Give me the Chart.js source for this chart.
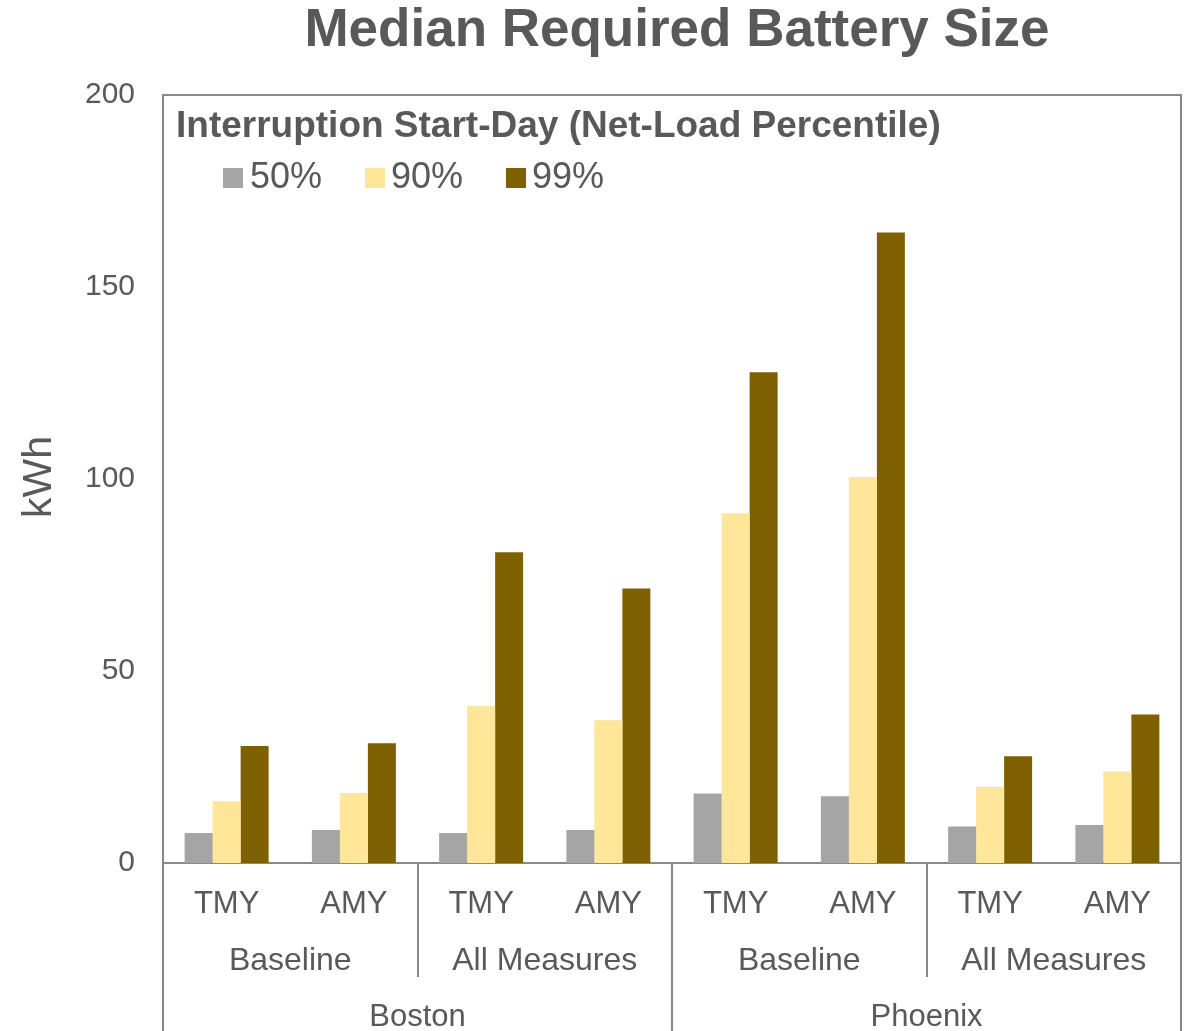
<!DOCTYPE html>
<html>
<head>
<meta charset="utf-8">
<script src="https://cdn.jsdelivr.net/npm/chart.js@4.4.1/dist/chart.umd.min.js"></script>
<style>
  html, body { margin: 0; padding: 0; background: #fff; }
  #wrap { width: 1191px; height: 1031px; }
</style>
</head>
<body>
<div id="wrap"><canvas id="c" width="1191" height="1031"></canvas></div>
<script>
const categories = ["TMY", "AMY", "TMY", "AMY", "TMY", "AMY", "TMY", "AMY"];
const scenarioGroups = ["Baseline", "All Measures", "Baseline", "All Measures"];
const cityGroups = ["Boston", "Phoenix"];
const seriesLabels = ["50%", "90%", "99%"];
const p50 = [7.8, 8.6, 7.8, 8.6, 18.1, 17.4, 9.5, 9.9];
const p90 = [16.1, 18.2, 40.9, 37.2, 91.1, 100.5, 19.8, 23.8];
const p99 = [30.5, 31.2, 80.9, 71.5, 127.8, 164.2, 27.8, 38.7];
const yTicks = [0, 50, 100, 150, 200];

const FONT = "'Liberation Sans', Arial, sans-serif";
const TXT = "#595959";
const LINE = "#898989";
const colors = ["#A5A5A5", "#FFE699", "#7F6000"];

const CH = { left: 163, right: 1181, top: 95, bottom: 863 };

const decorPlugin = {
  id: 'decor',
  afterDraw(chart) {
    const ctx = chart.ctx;
    const x = chart.scales.x;
    const area = chart.chartArea;
    ctx.save();
    // plot border (top & right)
    ctx.strokeStyle = LINE;
    ctx.lineWidth = 2;
    ctx.beginPath();
    ctx.moveTo(area.left, area.top);
    ctx.lineTo(area.right, area.top);
    ctx.lineTo(area.right, area.bottom);
    ctx.stroke();

    // category separators
    const n = categories.length;
    const step = (x.getPixelForValue(1) - x.getPixelForValue(0));
    const edge = i => x.getPixelForValue(i) - step / 2;
    ctx.lineWidth = 2;
    ctx.beginPath();
    for (let i = 0; i <= n; i += 2) {
      const px = Math.round(edge(i));
      const full = (i % 4 === 0);
      ctx.moveTo(px, area.bottom);
      ctx.lineTo(px, full ? 1031 : 977);
    }
    ctx.stroke();

    // group labels
    ctx.fillStyle = TXT;
    ctx.textAlign = 'center';
    ctx.textBaseline = 'middle';
    ctx.font = "32px " + FONT;
    scenarioGroups.forEach((g, k) => {
      const cx = (edge(2 * k) + edge(2 * k + 2)) / 2;
      ctx.fillText(g, cx, 961);
    });
    ctx.font = "31px " + FONT;
    cityGroups.forEach((g, k) => {
      const cx = (edge(4 * k) + edge(4 * k + 4)) / 2;
      ctx.fillText(g, cx, 1017);
    });

    // title
    ctx.font = "bold 53px " + FONT;
    ctx.fillText("Median Required Battery Size", 677, 31);

    // y axis title
    ctx.save();
    ctx.translate(40, 477);
    ctx.rotate(-Math.PI / 2);
    ctx.font = "41px " + FONT;
    ctx.fillText("kWh", 0, 0);
    ctx.restore();

    // legend inside plot
    ctx.textAlign = 'left';
    ctx.font = "bold 37px " + FONT;
    ctx.fillText("Interruption Start-Day (Net-Load Percentile)", 176, 127);
    const items = [{sq: 223, tx: 250}, {sq: 365, tx: 391}, {sq: 506, tx: 532}];
    ctx.font = "36px " + FONT;
    chart.data.datasets.forEach((ds, i) => {
      ctx.fillStyle = ds.backgroundColor;
      ctx.fillRect(items[i].sq, 168, 20, 20);
      ctx.fillStyle = TXT;
      ctx.fillText(ds.label, items[i].tx, 178);
    });
    ctx.restore();
  }
};

new Chart(document.getElementById('c'), {
  type: 'bar',
  data: {
    labels: categories,
    datasets: [
      { label: seriesLabels[0], data: p50, backgroundColor: colors[0] },
      { label: seriesLabels[1], data: p90, backgroundColor: colors[1] },
      { label: seriesLabels[2], data: p99, backgroundColor: colors[2] }
    ]
  },
  options: {
    responsive: false,
    animation: false,
    layout: { padding: { left: 0, right: 1191 - CH.right, top: CH.top, bottom: 0 } },
    datasets: { bar: { categoryPercentage: 0.66, barPercentage: 1.0, borderWidth: 0 } },
    plugins: { legend: { display: false }, title: { display: false }, tooltip: { enabled: false } },
    scales: {
      x: {
        grid: { display: false, drawTicks: false },
        border: { display: true, color: LINE, width: 2 },
        ticks: { color: TXT, font: { family: FONT, size: 31 }, padding: 23, maxRotation: 0, autoSkip: false },
        afterFit(scale) { scale.height = 1031 - CH.bottom; }
      },
      y: {
        min: 0, max: 200,
        afterBuildTicks(scale) { scale.ticks = yTicks.map(v => ({ value: v })); },
        grid: { display: false, drawTicks: false },
        border: { display: true, color: LINE, width: 2 },
        ticks: { color: TXT, font: { family: FONT, size: 30 }, padding: 28 },
        afterFit(scale) { scale.width = CH.left; }
      }
    }
  },
  plugins: [decorPlugin]
});
</script>
</body>
</html>
